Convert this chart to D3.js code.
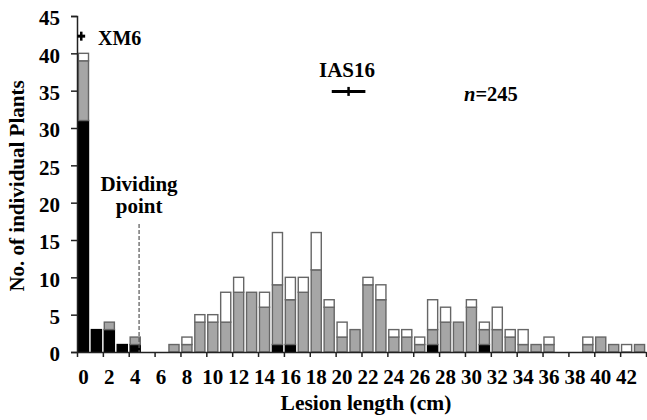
<!DOCTYPE html>
<html>
<head>
<meta charset="utf-8">
<script src="https://cdn.jsdelivr.net/npm/d3@7"></script>
<style>
  html, body { margin: 0; padding: 0; background: #fff; }
</style>
</head>
<body>
<div id="chart"></div>
<script>
// Lesion length classes (cm) and counts per class
const lengths = d3.range(0, 44);
const blackCounts = [31, 3, 3, 1, 1, 0, 0, 0, 0, 0, 0, 0, 0, 0, 0, 1, 1, 0, 0, 0, 0, 0,
  0, 0, 0, 0, 0, 1, 0, 0, 0, 1, 0, 0, 0, 0, 0, 0, 0, 0, 0, 0, 0, 0];
const grayCounts = [8, 0, 1, 0, 1, 0, 0, 1, 1, 4, 4, 4, 8, 8, 6, 8, 6, 8, 11, 6, 2, 3,
  9, 7, 2, 2, 1, 2, 4, 4, 6, 2, 3, 2, 1, 1, 1, 0, 0, 1, 2, 1, 0, 1];
const whiteCounts = [1, 0, 0, 0, 0, 0, 0, 0, 1, 1, 1, 4, 2, 0, 2, 7, 3, 2, 5, 1, 2, 0,
  1, 2, 1, 1, 1, 4, 2, 0, 1, 1, 3, 1, 2, 0, 1, 0, 0, 1, 0, 0, 1, 0];
const xTickLabels = d3.range(0, 44, 2);
const yTicks = d3.range(0, 50, 5);

// Parent markers: mean lesion length +/- spread, drawn at a fixed height
const parents = [
  { name: "XM6", mean: -0.17, spread: 0.3, y: 42.3 },
  { name: "IAS16", mean: 20.5, spread: 1.3, y: 34.9 }
];
const dividingPoint = 4.3;

const FONT = "Liberation Serif";
const width = 647, height = 420;
const x0 = 77, x1 = 646, yTop = 16, yBase = 352;

const svg = d3.select("#chart").append("svg")
  .attr("width", width)
  .attr("height", height);

const x = d3.scaleBand()
  .domain(lengths)
  .range([x0, x1])
  .paddingInner(0.22)
  .paddingOuter(0.11);

// continuous version of the same axis, for markers and tick positions
const xLin = d3.scaleLinear().domain([-0.5, 43.5]).range([x0, x1]);
const y = d3.scaleLinear().domain([0, 45]).range([yBase, yTop]);

const stacked = lengths.map((l, i) => ({
  length: l,
  segs: [
    { key: "black", y0: 0, y1: blackCounts[i] },
    { key: "gray", y0: blackCounts[i], y1: blackCounts[i] + grayCounts[i] },
    { key: "white", y0: blackCounts[i] + grayCounts[i], y1: blackCounts[i] + grayCounts[i] + whiteCounts[i] }
  ].filter(s => s.y1 > s.y0)
}));

const fills = { black: "#000000", gray: "#a6a6a6", white: "#ffffff" };
const strokes = { black: "#000000", gray: "#666666", white: "#666666" };

const barGroup = svg.append("g");
barGroup.selectAll("g.bar")
  .data(stacked)
  .enter()
  .append("g")
  .attr("class", "bar")
  .selectAll("rect")
  .data(d => d.segs.map(s => ({ ...s, length: d.length })))
  .enter()
  .append("rect")
  .attr("x", d => x(d.length))
  .attr("width", x.bandwidth())
  .attr("y", d => y(d.y1))
  .attr("height", d => y(d.y0) - y(d.y1))
  .attr("fill", d => fills[d.key])
  .attr("stroke", d => strokes[d.key])
  .attr("stroke-width", 1.4);

function label(sel, size) {
  return sel.attr("font-family", FONT)
    .attr("font-weight", "bold")
    .attr("font-size", size)
    .attr("fill", "#000");
}

// Y axis
const yAxis = svg.append("g")
  .attr("transform", `translate(${x0},0)`)
  .call(d3.axisLeft(y).tickValues(yTicks).tickSize(6).tickPadding(11));
label(yAxis.selectAll("text"), 21).attr("dy", "0.42em");
yAxis.select(".domain").attr("stroke", "#222").attr("stroke-width", 1.5);
yAxis.selectAll(".tick line").attr("stroke", "#222").attr("stroke-width", 1.5);

// X axis: tick marks between every second class, labels under even classes
const xAxis = svg.append("g")
  .attr("transform", `translate(0,${yBase})`)
  .call(d3.axisBottom(xLin)
    .tickValues(d3.range(-0.5, 44, 2))
    .tickFormat("")
    .tickSize(5)
    .tickSizeOuter(0));
xAxis.select(".domain").attr("stroke", "#222").attr("stroke-width", 1.5);
xAxis.selectAll(".tick line").attr("stroke", "#222").attr("stroke-width", 1.5);

label(svg.append("g")
  .selectAll("text")
  .data(xTickLabels)
  .enter()
  .append("text")
  .attr("x", d => x(d) + x.bandwidth() / 2)
  .attr("y", yBase + 32)
  .attr("text-anchor", "middle"), 21)
  .text(d => d);

// Axis titles
label(svg.append("text")
  .attr("x", 366)
  .attr("y", 410)
  .attr("text-anchor", "middle"), 21.5)
  .text("Lesion length (cm)");

label(svg.append("text")
  .attr("transform", `translate(24,186) rotate(-90)`)
  .attr("text-anchor", "middle"), 21)
  .text("No. of individual Plants");

// Dividing point
svg.append("line")
  .attr("x1", xLin(dividingPoint))
  .attr("x2", xLin(dividingPoint))
  .attr("y1", 224)
  .attr("y2", yBase)
  .attr("stroke", "#555")
  .attr("stroke-width", 1.2)
  .attr("stroke-dasharray", "4,2");

label(svg.append("text")
  .attr("x", xLin(dividingPoint))
  .attr("y", 191)
  .attr("text-anchor", "middle"), 21)
  .text("Dividing");
label(svg.append("text")
  .attr("x", xLin(dividingPoint))
  .attr("y", 213)
  .attr("text-anchor", "middle"), 21)
  .text("point");

// Parent lines with error bars
const pg = svg.append("g").selectAll("g")
  .data(parents)
  .enter()
  .append("g");
pg.append("line")
  .attr("x1", d => xLin(d.mean - d.spread))
  .attr("x2", d => xLin(d.mean + d.spread))
  .attr("y1", d => y(d.y))
  .attr("y2", d => y(d.y))
  .attr("stroke", "#000")
  .attr("stroke-width", 3);
pg.append("line")
  .attr("x1", d => xLin(d.mean))
  .attr("x2", d => xLin(d.mean))
  .attr("y1", d => y(d.y) - 4.5)
  .attr("y2", d => y(d.y) + 4.5)
  .attr("stroke", "#000")
  .attr("stroke-width", 2.5);

label(svg.append("text")
  .attr("x", 98)
  .attr("y", 45), 20)
  .text("XM6");

label(svg.append("text")
  .attr("x", 347)
  .attr("y", 77)
  .attr("text-anchor", "middle"), 21)
  .text("IAS16");

const nText = label(svg.append("text")
  .attr("x", 464)
  .attr("y", 101), 20.5);
nText.append("tspan").attr("font-style", "italic").text("n");
nText.append("tspan").text("=245");
</script>
</body>
</html>
